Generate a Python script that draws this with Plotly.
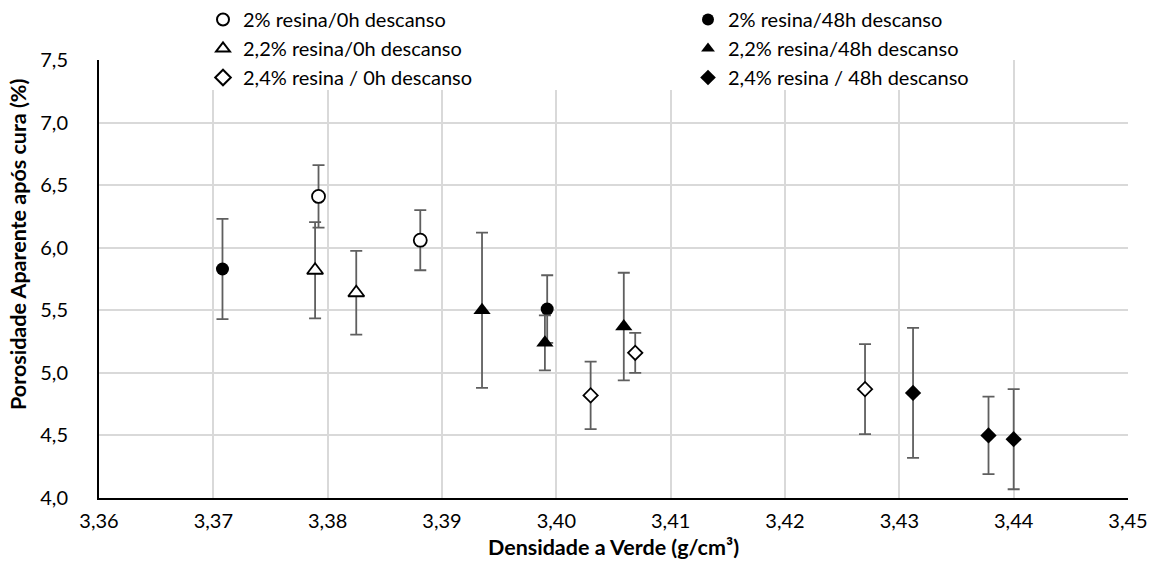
import plotly.graph_objects as go

# Densidade a verde (g/cm³), porosidade aparente (%) e desvio padrão por série
dens_2_0h = [3.3792, 3.3881]
poro_2_0h = [6.41, 6.06]
err_2_0h = [0.25, 0.24]

dens_2_48h = [3.3708, 3.3992]
poro_2_48h = [5.83, 5.51]
err_2_48h = [0.40, 0.27]

dens_22_0h = [3.3789, 3.3825]
poro_22_0h = [5.82, 5.64]
err_22_0h = [0.385, 0.335]

dens_22_48h = [3.3935, 3.3990, 3.4059]
poro_22_48h = [5.50, 5.24, 5.37]
err_22_48h = [0.62, 0.22, 0.43]

dens_24_0h = [3.4030, 3.4069, 3.4270]
poro_24_0h = [4.82, 5.16, 4.87]
err_24_0h = [0.27, 0.16, 0.36]

dens_24_48h = [3.4312, 3.4378, 3.4400]
poro_24_48h = [4.84, 4.50, 4.47]
err_24_48h = [0.52, 0.31, 0.40]

x_ticks = [3.36, 3.37, 3.38, 3.39, 3.40, 3.41, 3.42, 3.43, 3.44, 3.45]
y_ticks = [4.0, 4.5, 5.0, 5.5, 6.0, 6.5, 7.0, 7.5]

FONT = "Lato"
ERR_COLOR = "#5f5f5f"
GRID = "#d9d9d9"

series = [
    ("2% resina/0h descanso", dens_2_0h, poro_2_0h, err_2_0h, "circle", False, 13),
    ("2% resina/48h descanso", dens_2_48h, poro_2_48h, err_2_48h, "circle", True, 13),
    ("2,2% resina/0h descanso", dens_22_0h, poro_22_0h, err_22_0h, "triangle-up", False, 14),
    ("2,2% resina/48h descanso", dens_22_48h, poro_22_48h, err_22_48h, "triangle-up", True, 15),
    ("2,4% resina / 0h descanso", dens_24_0h, poro_24_0h, err_24_0h, "diamond", False, 11),
    ("2,4% resina / 48h descanso", dens_24_48h, poro_24_48h, err_24_48h, "diamond", True, 12.5),
]

fig = go.Figure()
for name, xs, ys, es, sym, filled, size in series:
    fig.add_trace(go.Scatter(
        x=xs, y=ys, mode="markers", name=name,
        error_y=dict(type="data", array=es, visible=True,
                     color=ERR_COLOR, thickness=1.8, width=6),
        marker=dict(symbol=sym, size=size,
                    color="black" if filled else "white",
                    line=dict(color="black", width=0 if filled else 1.8)),
    ))

# white box behind the legend, covering the top of the grid
fig.add_shape(type="rect", xref="paper", yref="paper",
              x0=0.0525, x1=0.887, y0=0.9315, y1=1.2,
              fillcolor="white", line=dict(width=0), layer="above")

# y-axis title placed as a rotated annotation
fig.add_annotation(
    text="<b>Porosidade Aparente após cura (%)</b>",
    xref="paper", yref="paper", x=-0.0786, y=0.578,
    xanchor="center", yanchor="middle", textangle=-90, showarrow=False,
    font=dict(family=FONT, size=21.5, color="black"),
)

fig.update_layout(
    width=1160, height=570,
    margin=dict(l=99, r=32, t=60, b=72, autoexpand=False),
    paper_bgcolor="white", plot_bgcolor="white",
    separators=",.",
    font=dict(family=FONT, size=20, color="black"),
    legend=dict(
        orientation="h", xref="container", yref="container",
        x=0.175, y=1.0, xanchor="left", yanchor="top",
        entrywidth=440, entrywidthmode="pixels",
        bgcolor="rgba(0,0,0,0)", font=dict(family=FONT, size=20),
        tracegroupgap=0, itemsizing="constant",
    ),
    xaxis=dict(
        range=[3.36, 3.45], tickvals=x_ticks, tickformat=".2f",
        showgrid=True, gridcolor=GRID, gridwidth=1.5,
        showline=True, linecolor="black", linewidth=2,
        ticks="", ticklabelstandoff=4, zeroline=False,
        title=dict(text="<b>Densidade a Verde (g/cm³)</b>", standoff=9,
                   font=dict(family=FONT, size=21.5)),
    ),
    yaxis=dict(
        range=[4.0, 7.5], tickvals=y_ticks, tickformat=".1f",
        showgrid=True, gridcolor=GRID, gridwidth=1.5,
        showline=True, linecolor="black", linewidth=2,
        ticks="", ticklabelstandoff=25, zeroline=False,
    ),
)

fig.write_html("out.html")
